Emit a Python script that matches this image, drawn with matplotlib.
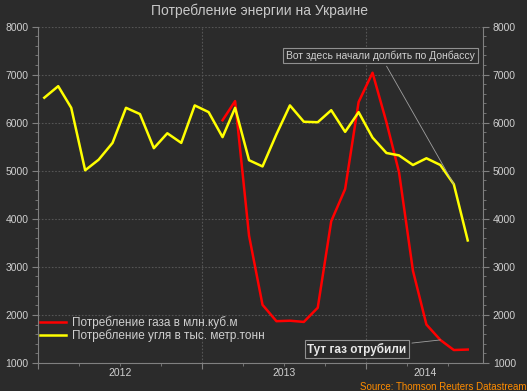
import pandas as pd
import numpy as np
import matplotlib
matplotlib.use('Agg')
import matplotlib.pyplot as plt
import matplotlib.dates as mdates

plt.rcParams['font.family'] = ['Liberation Sans', 'DejaVu Sans']

# данные (помесячно, янв 2012 - авг 2014)
months = pd.date_range('2012-01-01', '2014-08-01', freq='MS') + pd.Timedelta(days=14)
coal = [6520, 6760, 6310, 5010, 5230, 5580, 6310, 6180, 5470, 5780, 5580, 6360,
        6220, 5700, 6310, 5220, 5090, 5760, 6360, 6020, 6010, 6260, 5810, 6220,
        5690, 5370, 5320, 5120, 5260, 5120, 4720, 3550]
gas = [np.nan] * 13 + [6050, 6450, 3650, 2210, 1870, 1880, 1855, 2150, 3950, 4620,
                       6430, 7040, 6010, 4970, 2920, 1800, 1480, 1270, 1280]
years = ['2012', '2013', '2014']

bg = '#2b2b2b'
axcol = '#808080'
txtcol = '#d0d0d0'

fig = plt.figure(figsize=(5.27, 3.91), dpi=100, facecolor=bg)
ax = fig.add_axes([0.0721, 0.0716, 0.8444, 0.8604], facecolor=bg)

ax.plot(months, gas, color='#ff0000', lw=1.8, label='Потребление газа в млн.куб.м')
ax.plot(months, coal, color='#ffff00', lw=1.8, label='Потребление угля в тыс. метр.тонн')

xmin = pd.Timestamp('2012-01-01')
xmax = pd.Timestamp('2014-09-18')
ax.set_xlim(xmin, xmax)
ax.set_ylim(1000, 8000)

# оси
for s in ['left', 'right', 'bottom']:
    ax.spines[s].set_color(axcol)
ax.spines['top'].set_visible(False)

ax.set_yticks(range(1000, 8001, 1000))
ax.set_yticks(range(1000, 8001, 200), minor=True)
ax.yaxis.set_ticks_position('both')
ax.tick_params(axis='y', which='both', labelleft=True, labelright=True,
               colors=axcol, labelcolor=txtcol, labelsize=7.5, direction='out')
ax.tick_params(axis='y', which='major', length=4, pad=3)
ax.tick_params(axis='y', which='minor', length=2)

ax.xaxis.set_major_locator(mdates.YearLocator())
ax.xaxis.set_minor_locator(mdates.MonthLocator(bymonth=[1, 4, 7, 10]))
ax.tick_params(axis='x', which='both', colors=axcol, labelbottom=False, direction='out')
ax.tick_params(axis='x', which='major', length=4)
ax.tick_params(axis='x', which='minor', length=2)

# подписи годов по центру видимой части года
for y in years:
    a = max(pd.Timestamp(y + '-01-01'), xmin)
    b = min(pd.Timestamp(str(int(y) + 1) + '-01-01'), xmax)
    ax.text(a + (b - a) / 2, -0.03, y, transform=ax.get_xaxis_transform(),
            ha='center', va='center', color=txtcol, fontsize=7.5)

ax.grid(True, which='major', color='#555555', linestyle=(0, (1.5, 1.5)), lw=0.8)
ax.set_axisbelow(True)

fig.text(0.493, 0.973, 'Потребление энергии на Украине', ha='center', va='center',
         color='#c8c8c8', fontsize=10)

leg = ax.legend(loc='upper left', bbox_to_anchor=(0.005, 0.14), frameon=False,
                borderaxespad=0, borderpad=0, handlelength=2.2, handletextpad=0.5,
                labelspacing=0.05, fontsize=8.5)
for t in leg.get_texts():
    t.set_color(txtcol)

ax.annotate('Вот здесь начали долбить по Донбассу', xy=(months[30], coal[30]),
            xytext=(0.722, 0.858), textcoords='figure fraction', ha='center', va='center',
            color=txtcol, fontsize=7.5,
            bbox=dict(boxstyle='square,pad=0.25', fc=bg, ec='#909090', lw=0.8),
            arrowprops=dict(arrowstyle='-', color='#a0a0a0', lw=0.6, shrinkB=0))
ax.annotate('Тут газ отрубили', xy=(months[29], gas[29]),
            xytext=(0.677, 0.107), textcoords='figure fraction', ha='center', va='center',
            color='#e8e8e8', fontsize=8.5, fontweight='bold',
            bbox=dict(boxstyle='square,pad=0.2', fc=bg, ec='#909090', lw=0.8),
            arrowprops=dict(arrowstyle='-', color='#a0a0a0', lw=0.6, shrinkB=0))

fig.text(0.999, 0.01, 'Source: Thomson Reuters Datastream', ha='right', va='center',
         color='#ff8c00', fontsize=7)

plt.savefig('out.png', dpi=100, facecolor=bg)
